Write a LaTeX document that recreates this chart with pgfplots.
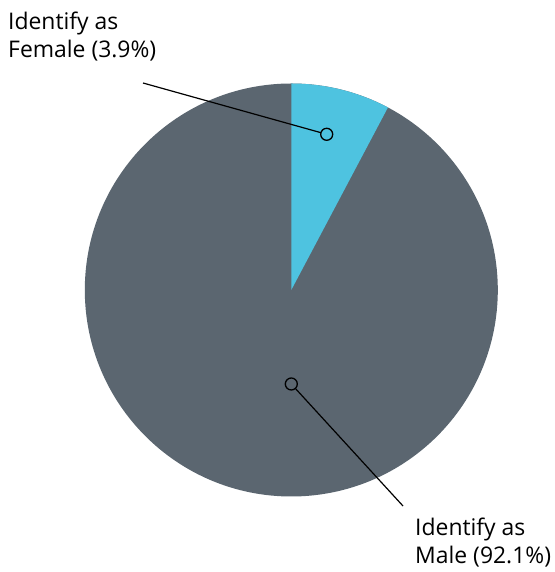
\documentclass[border=0pt]{standalone}
\usepackage{pgfplots}
\pgfplotsset{compat=1.18}
\usepackage{fontspec}
\setmainfont{Open Sans}
\definecolor{pieblue}{HTML}{4EC3E0}
\definecolor{piegray}{HTML}{5B6670}
\begin{document}
\begin{tikzpicture}
\begin{axis}[
  scale only axis, width=555bp, height=572bp,
  xmin=0, xmax=555, ymin=0, ymax=572,
  axis lines=none, clip=false,
]
% pie: female slice 90 -> 62.1 deg, male the rest
\fill[piegray] (axis cs:291.3,282) -- (axis cs:291.3,488.5) arc[start angle=90, end angle=-297.9, radius=206.5bp] -- cycle;
\fill[pieblue] (axis cs:291.3,282) -- (axis cs:291.3,488.5) arc[start angle=90, end angle=62.1, radius=206.5bp] -- cycle;
% leader lines
\addplot[black, line width=1.2bp, shorten >=6bp] coordinates {(143,489) (326.7,437.7)};
\addplot[black, line width=1.2bp, shorten <=6bp] coordinates {(291.3,188) (403,66)};
% markers
\addplot[only marks, mark=o, mark size=6bp, mark options={line width=1.3bp, black}] coordinates {(326.7,437.7) (291.3,188)};
% labels
\node[anchor=base west, inner sep=0pt, font=\fontsize{23}{28}\selectfont] at (axis cs:8,542.7) {Identify as};
\node[anchor=base west, inner sep=0pt, font=\fontsize{23}{28}\selectfont] at (axis cs:8,514.7) {Female (3.9\%)};
\node[anchor=base west, inner sep=0pt, font=\fontsize{23}{28}\selectfont] at (axis cs:415,36) {Identify as};
\node[anchor=base west, inner sep=0pt, font=\fontsize{23}{28}\selectfont] at (axis cs:415,8.7) {Male (92.1\%)};
\end{axis}
\pgfresetboundingbox
\path (current axis.south west) rectangle (current axis.north east);
\end{tikzpicture}
\end{document}
